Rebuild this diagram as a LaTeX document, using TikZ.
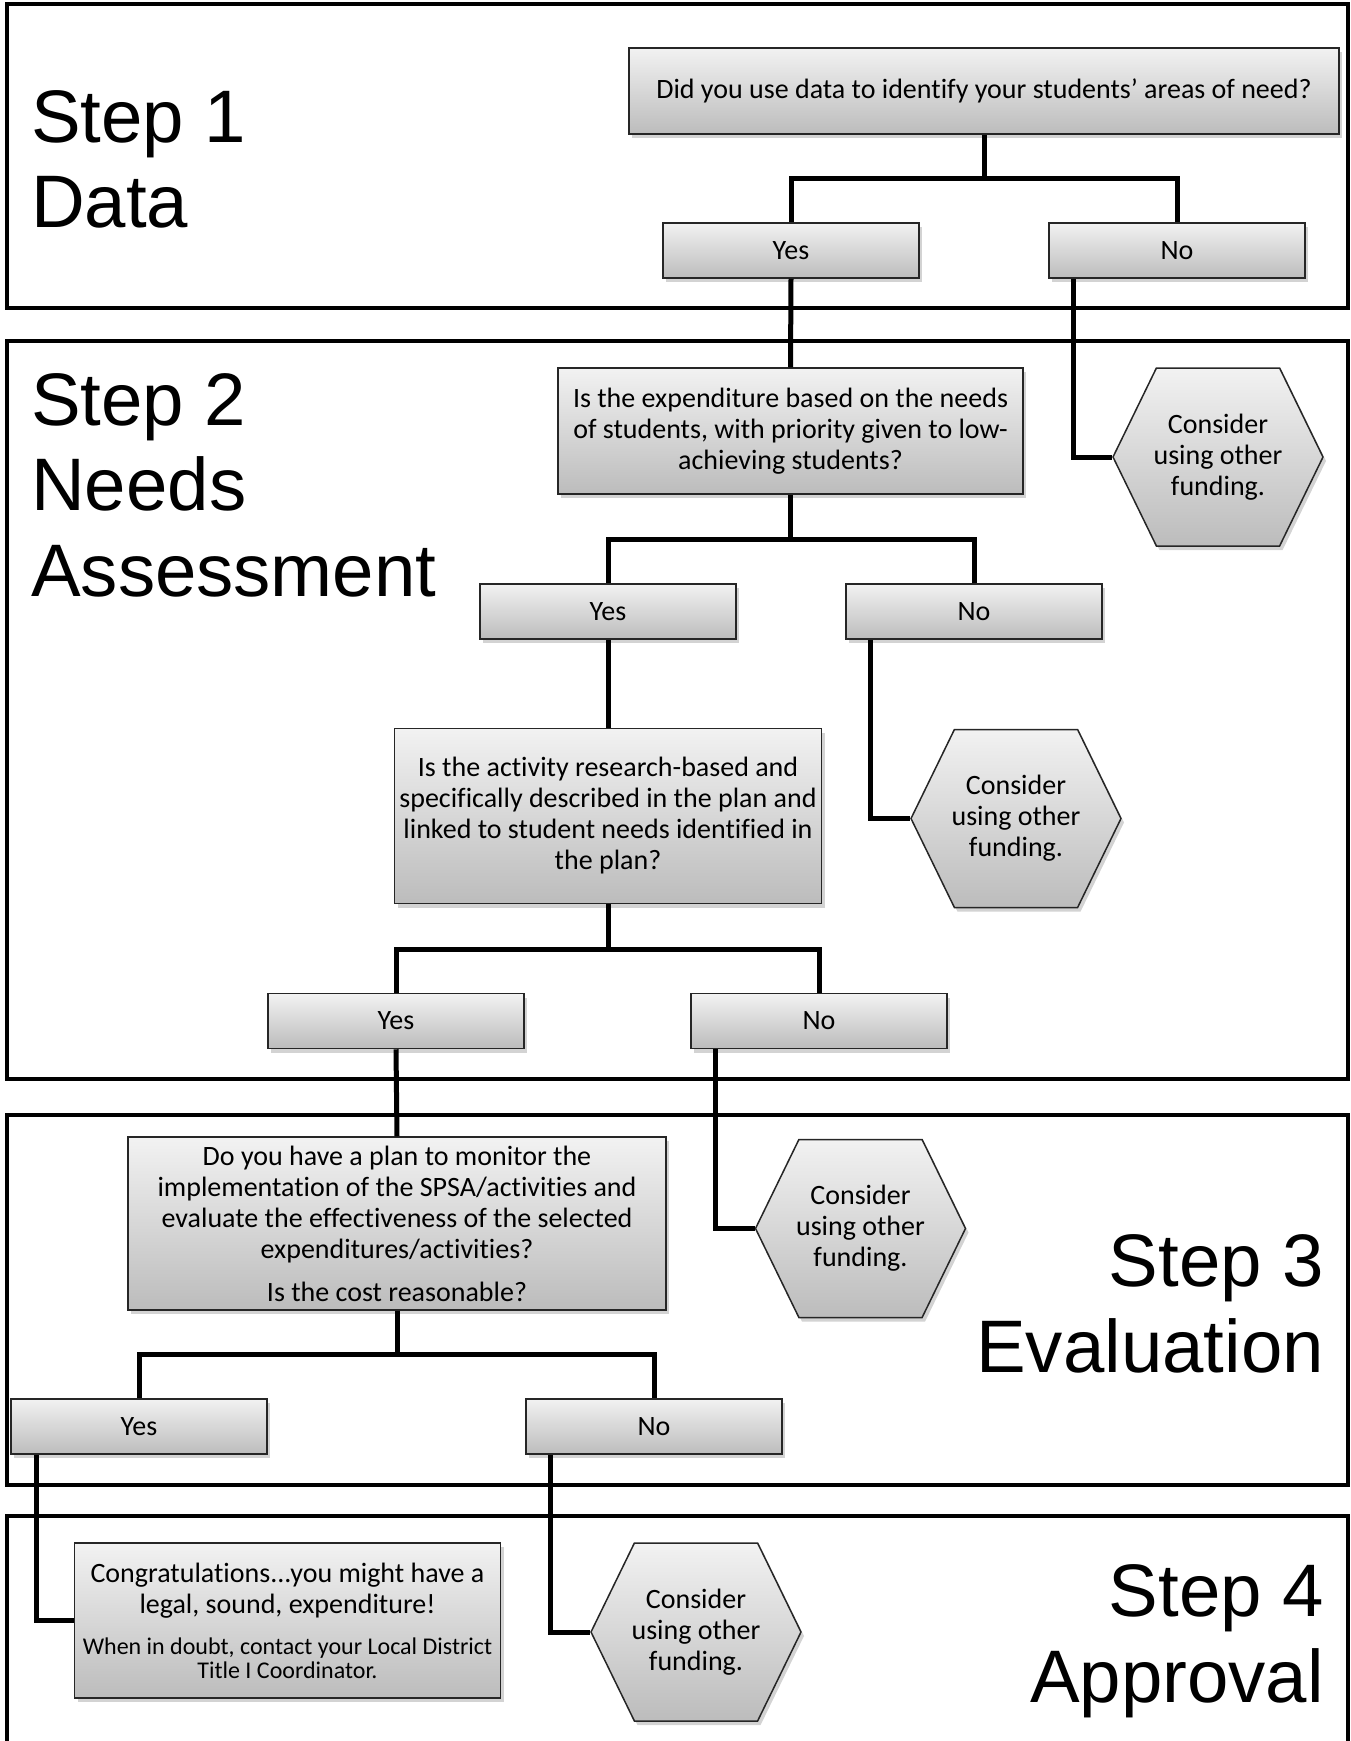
\documentclass[tikz,border=0pt]{standalone}
\usepackage{fontspec}
\setmainfont{Carlito}[Ligatures=CommonOff]
\newfontfamily\arialfont{Liberation Sans}
\usepackage{xcolor}
\usetikzlibrary{shapes.geometric,shapes.symbols,positioning,shadows}

\definecolor{boxtop}{HTML}{F2F2F2}
\definecolor{boxbot}{HTML}{BCBCBC}
\definecolor{boxline}{HTML}{262626}

\tikzset{
  frame/.style={draw=black, line width=4pt},
  steplabel/.style={font=\arialfont\fontsize{74.4}{85.5}\selectfont, inner sep=0pt},
  qbox/.style={rectangle, draw=boxline, line width=1.5pt, top color=boxtop, bottom color=boxbot,
    drop shadow={shadow xshift=3pt, shadow yshift=-4pt, opacity=0.35},
    font=\fontsize{28}{31}\selectfont, align=center, inner sep=2pt},
  ansbox/.style={qbox, minimum width=256pt, minimum height=55pt},
  hexbox/.style={qbox, signal, signal to=west and east, signal pointer angle=128,
    minimum width=210pt, minimum height=178pt, inner xsep=-6pt},
  link/.style={draw=black, line width=5pt},
}

\begin{document}
\begin{tikzpicture}[x=1pt, y=-1pt]
  \useasboundingbox (0,0) rectangle (1351,1741);
  \clip (0,0) rectangle (1351,1741);
  % Frames
  \draw[frame] (6.7,4.4) rectangle (1347.7,307.5);
  \draw[frame] (6.7,340.8) rectangle (1347.7,1079);
  \draw[frame] (6.7,1114.5) rectangle (1347.7,1485.3);
  \draw[frame] (6.7,1760) -- (6.7,1516.4) -- (1347.7,1516.4) -- (1347.7,1760);
  % Step labels
  \node (s1) [steplabel, anchor=base west, align=left] at (31,227.6) {Step 1\\Data};
  \node (s2) [steplabel, anchor=base west, align=left] at (31,596) {Step 2\\Needs\\Assessment};
  \node (s3) [steplabel, anchor=base east, align=right] at (1324,1372) {Step 3\\Evaluation};
  \node (s4) [steplabel, anchor=base east, align=right] at (1324,1702) {Step 4\\Approval};
  % Nodes
  \node (q1) [qbox, minimum width=710pt, minimum height=86pt] at (984,91)
    {Did you use data to identify your students’ areas of need?};
  \node (yes1) [ansbox] at (791,250.5) {Yes};
  \node (no1) [ansbox] at (1177,250.5) {No};
  \node (hex1) [hexbox] at (1218,457) {Consider\\using other\\funding.};
  \node (q2) [qbox, minimum width=465pt, minimum height=126pt] at (790.5,431)
    {Is the expenditure based on the needs\\of students, with priority given to low-\\achieving students?};
  \node (yes2) [ansbox] at (608,611.5) {Yes};
  \node (no2) [ansbox] at (974,611.5) {No};
  \node (hex2) [hexbox] at (1016,818.5) {Consider\\using other\\funding.};
  \node (q3) [qbox, minimum width=427pt, minimum height=175pt] at (608,816)
    {Is the activity research-based and\\specifically described in the plan and\\linked to student needs identified in\\the plan?};
  \node (yes3) [ansbox] at (396,1021) {Yes};
  \node (no3) [ansbox] at (819,1021) {No};
  \node (hex3) [hexbox] at (860.5,1228.5) {Consider\\using other\\funding.};
  \node (q4) [qbox, minimum width=538pt, minimum height=173pt] at (397,1223.5)
    {Do you have a plan to monitor the\\implementation of the SPSA/activities and\\evaluate the effectiveness of the selected\\expenditures/activities?\\[12pt]Is the cost reasonable?};
  \node (yes4) [ansbox] at (139,1426.5) {Yes};
  \node (no4) [ansbox] at (654,1426.5) {No};
  \node (hex4) [hexbox] at (696,1632) {Consider\\using other\\funding.};
  \node (fin) [qbox, minimum width=426pt, minimum height=155pt] at (287.5,1620.7)
    {Congratulations...you might have a\\legal, sound, expenditure!\\[10pt]
     \parbox[t]{420pt}{\centering\fontsize{24}{24.4}\selectfont
       When in doubt, contact your Local District\\Title I Coordinator.}};
  % Branch points
  \coordinate (b1) at (984,178);
  \coordinate (b2) at (790.5,539.5);
  \coordinate (b3) at (608,949);
  \coordinate (b4) at (397,1354);
  % Links
  \draw[link] (q1.south) -- (b1) -| (yes1.north);
  \draw[link] (b1) -| (no1.north);
  \draw[link] (yes1.south) -- (q2.north);
  \draw[link] ([xshift=25pt]no1.south west) |- (hex1.west);
  \draw[link] (q2.south) -- (b2) -| (yes2.north);
  \draw[link] (b2) -| (no2.north);
  \draw[link] (yes2.south) -- (q3.north);
  \draw[link] ([xshift=25pt]no2.south west) |- (hex2.west);
  \draw[link] (q3.south) -- (b3) -| (yes3.north);
  \draw[link] (b3) -| (no3.north);
  \draw[link] (yes3.south) -- (q4.north);
  \draw[link] ([xshift=25pt]no3.south west) |- (hex3.west);
  \draw[link] (q4.south) -- (b4) -| (yes4.north);
  \draw[link] (b4) -| (no4.north);
  \draw[link] ([xshift=26pt]yes4.south west) |- (fin.west);
  \draw[link] ([xshift=25pt]no4.south west) |- (hex4.west);
\end{tikzpicture}
\end{document}
